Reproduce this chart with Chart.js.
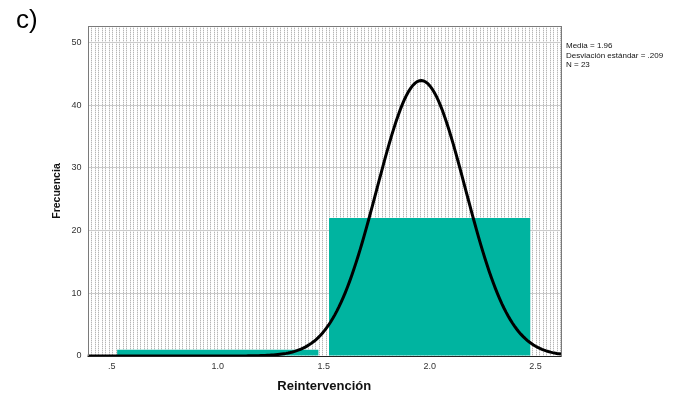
<!DOCTYPE html>
<html>
<head>
<meta charset="utf-8">
<script src="https://cdn.jsdelivr.net/npm/chart.js@4/dist/chart.umd.min.js"></script>
<style>
  html, body { margin: 0; padding: 0; background: #ffffff; }
  #wrap { width: 677px; height: 402px; position: relative; }
</style>
</head>
<body>
<div id="wrap"><canvas id="chart" width="677" height="402"></canvas></div>
<script>
// Histogram bins (bin centres and counts)
const binCenters = [1.0, 2.0];
const binCounts = [1, 22];

// Summary statistics shown beside the plot
const statMean = 1.96;
const statSD = 0.209;
const statN = 23;
const binWidth = 1;
const statLabels = ['Media = 1.96', 'Desviación estándar = .209', 'N = 23'];

// Axis ticks
const xTickValues = [0.5, 1.0, 1.5, 2.0, 2.5];
const xTickLabels = ['.5', '1.0', '1.5', '2.0', '2.5'];
const yTickValues = [0, 10, 20, 30, 40, 50];

const xMin = 0.385, xMax = 2.62;
const yMin = 0, yMax = 52.6;

// Fitted normal curve, scaled to counts (N * bin width * density)
const normalCurve = [];
for (let i = 0; i <= 224; i++) {
  const x = xMin + (xMax - xMin) * i / 224;
  const z = (x - statMean) / statSD;
  const y = statN * binWidth * Math.exp(-0.5 * z * z) / (statSD * Math.sqrt(2 * Math.PI));
  normalCurve.push({ x: x, y: y });
}

const bars = binCenters.map((c, i) => ({ x: c, y: binCounts[i] }));

// Dotted plot-area fill
function makeDotPattern(ctx) {
  const tile = document.createElement('canvas');
  tile.width = 7; tile.height = 2;
  const t = tile.getContext('2d');
  t.fillStyle = '#ffffff';
  t.fillRect(0, 0, 7, 2);
  t.fillStyle = '#b6b6b6';
  t.fillRect(0, 0, 1, 1);
  t.fillRect(4, 0, 1, 1);
  t.fillStyle = '#e6e6e6';
  t.fillRect(0, 1, 1, 1);
  t.fillRect(4, 1, 1, 1);
  return ctx.createPattern(tile, 'repeat');
}

const framePlugin = {
  id: 'frame',
  beforeDraw(chart) {
    const { ctx, chartArea: a } = chart;
    ctx.save();
    ctx.fillStyle = makeDotPattern(ctx);
    ctx.fillRect(a.left, a.top, a.right - a.left, a.bottom - a.top);
    ctx.restore();
  },
  afterDraw(chart) {
    const { ctx, chartArea: a } = chart;
    ctx.save();
    ctx.strokeStyle = '#7a7a7a';
    ctx.lineWidth = 1;
    ctx.strokeRect(Math.round(a.left) + 0.5, Math.round(a.top) + 0.5,
                   Math.round(a.right - a.left) - 1, Math.round(a.bottom - a.top));
    // bottom axis line
    ctx.strokeStyle = '#222222';
    ctx.beginPath();
    ctx.moveTo(a.left, Math.round(a.bottom) + 0.5);
    ctx.lineTo(a.right, Math.round(a.bottom) + 0.5);
    ctx.stroke();

    // panel letter
    ctx.fillStyle = '#000000';
    ctx.font = '26px "Liberation Sans", Arial, sans-serif';
    ctx.textBaseline = 'middle';
    ctx.textAlign = 'left';
    ctx.fillText('c)', 16, 21);

    // statistics block
    ctx.font = '8px "Liberation Sans", Arial, sans-serif';
    ctx.fillStyle = '#111111';
    statLabels.forEach((s, i) => ctx.fillText(s, a.right + 5, 46 + i * 9.4));
    ctx.restore();
  }
};

new Chart(document.getElementById('chart'), {
  type: 'bar',
  data: {
    datasets: [
      {
        type: 'line',
        data: normalCurve,
        borderColor: '#000000',
        borderWidth: 3,
        pointRadius: 0,
        tension: 0,
        fill: false,
        order: 0
      },
      {
        type: 'bar',
        data: bars,
        backgroundColor: '#00b4a0',
        borderWidth: 0,
        // tick spacing is half a bin, so the ruler unit is 0.5
        barPercentage: 1.9,
        categoryPercentage: 1.0,
        order: 1
      }
    ]
  },
  options: {
    responsive: false,
    animation: false,
    devicePixelRatio: 1,
    layout: { padding: { left: 40, right: 116, top: 26, bottom: 0 } },
    plugins: { legend: { display: false }, tooltip: { enabled: false } },
    scales: {
      x: {
        type: 'linear',
        min: xMin,
        max: xMax,
        offset: false,
        grid: { display: false, drawTicks: false },
        border: { display: false },
        afterBuildTicks: (s) => { s.ticks = xTickValues.map(v => ({ value: v })); },
        afterFit: (s) => { s.height = 46; },
        ticks: {
          callback: (v) => xTickLabels[xTickValues.indexOf(v)],
          color: '#333333',
          font: { family: '"Liberation Sans", Arial, sans-serif', size: 9 },
          padding: 5,
          maxRotation: 0,
          autoSkip: false
        },
        title: {
          display: true,
          text: 'Reintervención',
          color: '#111111',
          font: { family: '"Liberation Sans", Arial, sans-serif', size: 13, weight: 'bold' },
          padding: { top: 4, bottom: 8 }
        }
      },
      y: {
        type: 'linear',
        min: yMin,
        max: yMax,
        grid: { color: '#cccccc', lineWidth: 1, drawTicks: false },
        border: { display: false },
        afterBuildTicks: (s) => { s.ticks = yTickValues.map(v => ({ value: v })); },
        afterFit: (s) => { s.width = 47.5; },
        ticks: {
          color: '#333333',
          font: { family: '"Liberation Sans", Arial, sans-serif', size: 9 },
          padding: 6
        },
        title: {
          display: true,
          text: 'Frecuencia',
          color: '#111111',
          font: { family: '"Liberation Sans", Arial, sans-serif', size: 10.5, weight: 'bold' },
          padding: { top: 10.7, bottom: 0 }
        }
      }
    }
  },
  plugins: [framePlugin]
});
</script>
</body>
</html>
